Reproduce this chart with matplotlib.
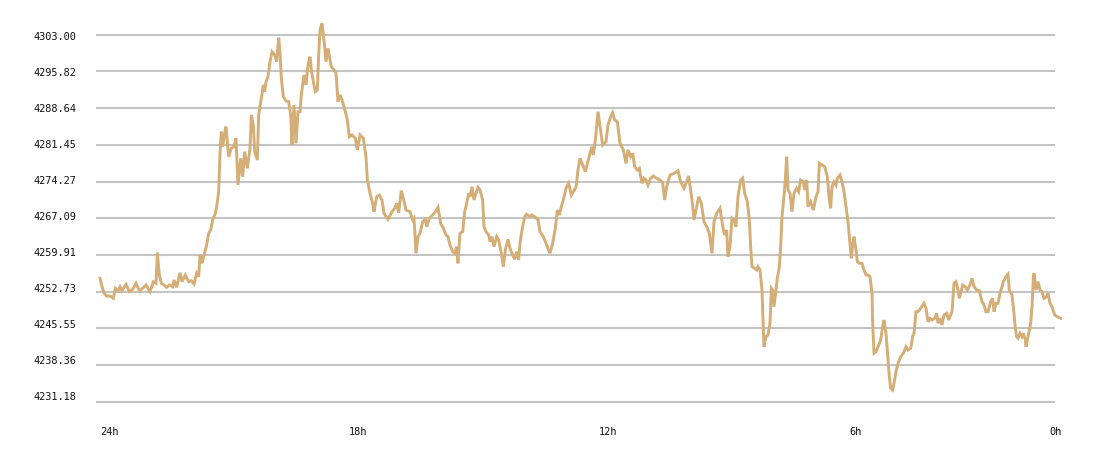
import matplotlib
matplotlib.use("Agg")
import matplotlib.pyplot as plt

# minutes since the start of the 24h window
minutes = [0, 3, 6, 10, 15, 20, 23, 27, 30, 33, 39, 44, 49, 54, 59, 64, 69, 75, 80, 84,
           86, 89, 92, 96, 100, 104, 109, 111, 115, 120, 123, 128, 133, 137, 141, 145, 148, 150, 153, 156,
           160, 163, 166, 169, 173, 175, 178, 180, 182, 184, 187, 189, 193, 197, 201, 204, 207, 211, 214, 217,
           221, 225, 227, 230, 232, 236, 238, 242, 245, 247, 249, 252, 255, 258, 262, 265, 268, 270, 272, 275,
           279, 283, 286, 288, 291, 294, 297, 300, 302, 306, 309, 312, 315, 317, 320, 323, 326, 328, 330, 333,
           335, 337, 339, 342, 345, 347, 351, 354, 357, 360, 363, 368, 371, 374, 378, 383, 386, 390, 395, 399,
           401, 405, 409, 411, 415, 419, 423, 426, 432, 438, 442, 445, 448, 452, 455, 459, 465, 469, 471, 474,
           477, 480, 484, 488, 490, 494, 499, 503, 507, 511, 515, 519, 522, 525, 529, 532, 535, 537, 540, 544,
           547, 550, 553, 555, 558, 561, 564, 567, 570, 574, 576, 579, 583, 585, 588, 591, 595, 598, 602, 605,
           608, 612, 615, 619, 622, 625, 628, 630, 633, 637, 640, 645, 648, 653, 657, 660, 665, 670, 675, 679,
           683, 686, 689, 692, 695, 699, 703, 707, 710, 714, 717, 720, 724, 728, 735, 738, 740, 743, 745, 747,
           750, 754, 759, 762, 766, 769, 772, 776, 780, 785, 789, 792, 796, 799, 802, 806, 809, 813, 816, 819,
           822, 826, 830, 835, 840, 844, 847, 850, 855, 861, 867, 871, 876, 880, 883, 886, 888, 891, 895, 898,
           902, 906, 910, 914, 918, 921, 925, 930, 935, 937, 940, 942, 945, 948, 951, 954, 957, 961, 964, 967,
           971, 974, 976, 978, 982, 985, 987, 990, 993, 994, 996, 999, 1002, 1005, 1007, 1009, 1011, 1014, 1016, 1019,
           1021, 1023, 1025, 1028, 1030, 1032, 1035, 1038, 1041, 1045, 1048, 1051, 1055, 1057, 1060, 1062, 1066, 1070, 1074, 1077,
           1079, 1083, 1087, 1091, 1094, 1096, 1098, 1101, 1104, 1106, 1110, 1113, 1116, 1119, 1122, 1124, 1127, 1129, 1131, 1134,
           1136, 1139, 1143, 1145, 1149, 1152, 1155, 1158, 1159, 1161, 1164, 1167, 1171, 1174, 1176, 1179, 1182, 1184, 1186, 1189,
           1191, 1194, 1197, 1201, 1205, 1209, 1212, 1216, 1219, 1221, 1224, 1227, 1231, 1236, 1239, 1242, 1245, 1248, 1252, 1255,
           1257, 1260, 1263, 1266, 1270, 1273, 1276, 1278, 1281, 1284, 1286, 1289, 1291, 1294, 1298, 1301, 1305, 1308, 1311, 1315,
           1319, 1323, 1326, 1329, 1332, 1336, 1339, 1341, 1344, 1347, 1350, 1353, 1355, 1359, 1362, 1364, 1368, 1370, 1373, 1375,
           1377, 1380, 1383, 1385, 1388, 1389, 1392, 1396, 1398, 1400, 1401, 1404, 1407, 1410, 1413, 1416, 1420, 1422, 1425, 1428,
           1432, 1436, 1441]

prices = [4255.33, 4253.68, 4252.39, 4251.86, 4251.86, 4251.41, 4253.37, 4252.90, 4253.68, 4252.90,
          4254.15, 4252.71, 4253.18, 4254.35, 4252.90, 4253.37, 4254.02, 4252.71, 4254.66, 4254.35,
          4260.34, 4255.97, 4254.35, 4254.02, 4253.57, 4254.02, 4253.68, 4254.99, 4253.57, 4256.42,
          4254.66, 4255.97, 4254.66, 4254.86, 4254.21, 4256.31, 4255.64, 4259.89, 4258.26, 4259.89,
          4261.84, 4264.13, 4264.78, 4266.74, 4268.05, 4269.34, 4272.28, 4279.79, 4284.02, 4281.08,
          4283.70, 4285.00, 4279.12, 4280.77, 4281.08, 4282.73, 4273.59, 4278.81, 4275.21, 4280.10,
          4276.85, 4280.77, 4287.29, 4285.33, 4280.10, 4278.48, 4287.29, 4290.55, 4293.16, 4291.85,
          4293.80, 4294.78, 4297.72, 4299.67, 4299.03, 4297.72, 4302.41, 4299.67, 4294.47, 4290.87,
          4290.03, 4289.89, 4287.29, 4281.41, 4289.24, 4281.75, 4287.93, 4287.93, 4291.20, 4295.11,
          4293.16, 4297.07, 4298.69, 4296.09, 4293.80, 4291.85, 4292.18, 4299.03, 4303.92, 4305.23,
          4302.94, 4300.65, 4297.72, 4300.34, 4298.05, 4296.74, 4296.09, 4295.45, 4289.89, 4291.20,
          4290.22, 4287.93, 4286.31, 4283.04, 4283.37, 4282.73, 4280.44, 4283.37, 4282.73, 4279.12,
          4274.56, 4271.96, 4270.01, 4268.36, 4271.30, 4271.63, 4270.65, 4268.05, 4266.87, 4268.36,
          4269.03, 4270.01, 4268.17, 4272.47, 4270.98, 4268.69, 4268.36, 4266.74, 4267.07, 4260.22,
          4263.47, 4264.13, 4266.40, 4266.87, 4265.43, 4267.07, 4267.72, 4268.36, 4269.22, 4266.09,
          4265.11, 4263.80, 4263.47, 4261.84, 4260.53, 4260.22, 4261.51, 4258.26, 4264.13, 4264.45,
          4268.36, 4270.01, 4271.96, 4271.30, 4273.25, 4270.65, 4271.96, 4273.14, 4272.61, 4270.65,
          4265.43, 4264.45, 4263.80, 4262.49, 4263.47, 4261.51, 4263.47, 4262.82, 4260.22, 4257.60,
          4260.87, 4262.96, 4261.20, 4259.89, 4259.05, 4260.53, 4258.91, 4262.18, 4264.78, 4267.38,
          4267.85, 4267.38, 4267.72, 4267.27, 4266.74, 4264.45, 4263.47, 4261.84, 4260.22, 4262.18,
          4265.11, 4268.69, 4267.72, 4269.34, 4270.65, 4272.94, 4273.92, 4271.63, 4272.28, 4273.14,
          4276.52, 4278.81, 4277.50, 4276.19, 4279.79, 4281.08, 4279.46, 4282.39, 4285.00, 4287.93,
          4285.00, 4281.41, 4282.06, 4285.33, 4286.95, 4287.74, 4286.31, 4285.97, 4281.75, 4280.44,
          4277.83, 4280.44, 4279.12, 4279.79, 4277.17, 4276.52, 4276.85, 4273.92, 4274.90, 4274.56,
          4273.59, 4274.90, 4275.35, 4274.90, 4274.56, 4274.04, 4270.65, 4273.25, 4275.54, 4275.88,
          4276.38, 4274.23, 4272.94, 4274.23, 4275.35, 4272.61, 4270.65, 4266.74, 4269.34, 4271.30,
          4270.01, 4266.40, 4265.43, 4264.13, 4260.22, 4266.40, 4268.05, 4269.03, 4264.78, 4263.80,
          4264.78, 4259.55, 4261.51, 4267.07, 4266.74, 4265.43, 4271.30, 4274.56, 4274.90, 4271.96,
          4270.32, 4266.74, 4261.51, 4257.60, 4257.28, 4256.95, 4257.60, 4256.95, 4253.04, 4249.12,
          4241.94, 4243.90, 4244.23, 4246.52, 4253.37, 4253.04, 4249.77, 4253.04, 4255.33, 4257.60,
          4261.51, 4267.38, 4270.01, 4274.56, 4279.12, 4272.61, 4271.96, 4268.36, 4271.96, 4272.94,
          4272.28, 4274.56, 4274.23, 4272.61, 4274.56, 4269.34, 4270.32, 4268.69, 4271.30, 4272.28,
          4277.83, 4277.50, 4277.17, 4275.21, 4270.65, 4269.03, 4273.25, 4274.23, 4273.59, 4274.90,
          4275.54, 4274.23, 4272.28, 4269.34, 4266.40, 4263.47, 4259.24, 4261.84, 4263.47, 4260.87,
          4258.58, 4258.26, 4258.26, 4257.28, 4255.97, 4255.97, 4255.64, 4252.39, 4246.52, 4240.65,
          4240.96, 4241.94, 4243.25, 4245.86, 4247.17, 4244.56, 4239.34, 4236.07, 4233.80, 4233.47,
          4234.78, 4237.05, 4238.69, 4239.98, 4240.65, 4241.94, 4241.30, 4241.63, 4243.90, 4244.56,
          4248.79, 4248.79, 4249.46, 4250.43, 4249.46, 4246.83, 4247.50, 4247.17, 4247.50, 4248.48,
          4246.52, 4247.50, 4246.19, 4248.15, 4248.48, 4247.17, 4248.15, 4248.79, 4254.35, 4254.66,
          4253.68, 4251.41, 4252.39, 4254.02, 4253.68, 4253.04, 4254.02, 4255.33, 4253.68, 4253.04,
          4252.90, 4250.75, 4250.10, 4248.79, 4248.79, 4250.75, 4251.41, 4248.79, 4250.43, 4250.43,
          4252.39, 4253.68, 4254.66, 4255.64, 4256.11, 4253.04, 4252.06, 4249.77, 4245.54, 4243.90,
          4243.59, 4244.56, 4243.90, 4244.56, 4243.25, 4241.94, 4243.90, 4246.52, 4249.77, 4255.33,
          4256.31, 4253.04, 4254.66, 4253.04, 4252.71, 4251.41, 4251.73, 4252.39, 4250.43, 4249.77,
          4248.15, 4247.81, 4247.50]

grid_values = [4303.00, 4295.82, 4288.64, 4281.45, 4274.27, 4267.09,
               4259.91, 4252.73, 4245.55, 4238.36, 4231.18]
grid_labels = ["4303.00", "4295.82", "4288.64", "4281.45", "4274.27", "4267.09",
               "4259.91", "4252.73", "4245.55", "4238.36", "4231.18"]
x_tick_minutes = [0, 373.5, 748.5, 1123.5, 1423.5]
x_tick_labels = ["24h", "18h", "12h", "6h", "0h"]

W, H = 1100, 458
fig = plt.figure(figsize=(W / 100, H / 100), dpi=100)
ax = fig.add_axes([0, 0, 1, 1])
ax.set_axis_off()
ax.set_xlim(-150, 1500)
ax.set_ylim(4220.16, 4309.79)

ax.hlines(grid_values, -6, 1432.5, colors="#c4c4c4", linewidth=1.5, zorder=1)
ax.plot(minutes, prices, color="#d4ae76", linewidth=2.1, solid_joinstyle="miter", zorder=2)

font = dict(family="DejaVu Sans Mono", fontsize=7.4, color="#111111")
for k, lab in enumerate(grid_labels):
    ypx = 36.7 + 36.03 * k
    fig.text(76.5 / W, 1 - ypx / H, lab, ha="right", va="center", **font)
for m, lab in zip(x_tick_minutes, x_tick_labels):
    ax.text(m, 4225.25, lab, ha="left", va="center", **font)

fig.savefig("out.png", dpi=100, facecolor="white")
